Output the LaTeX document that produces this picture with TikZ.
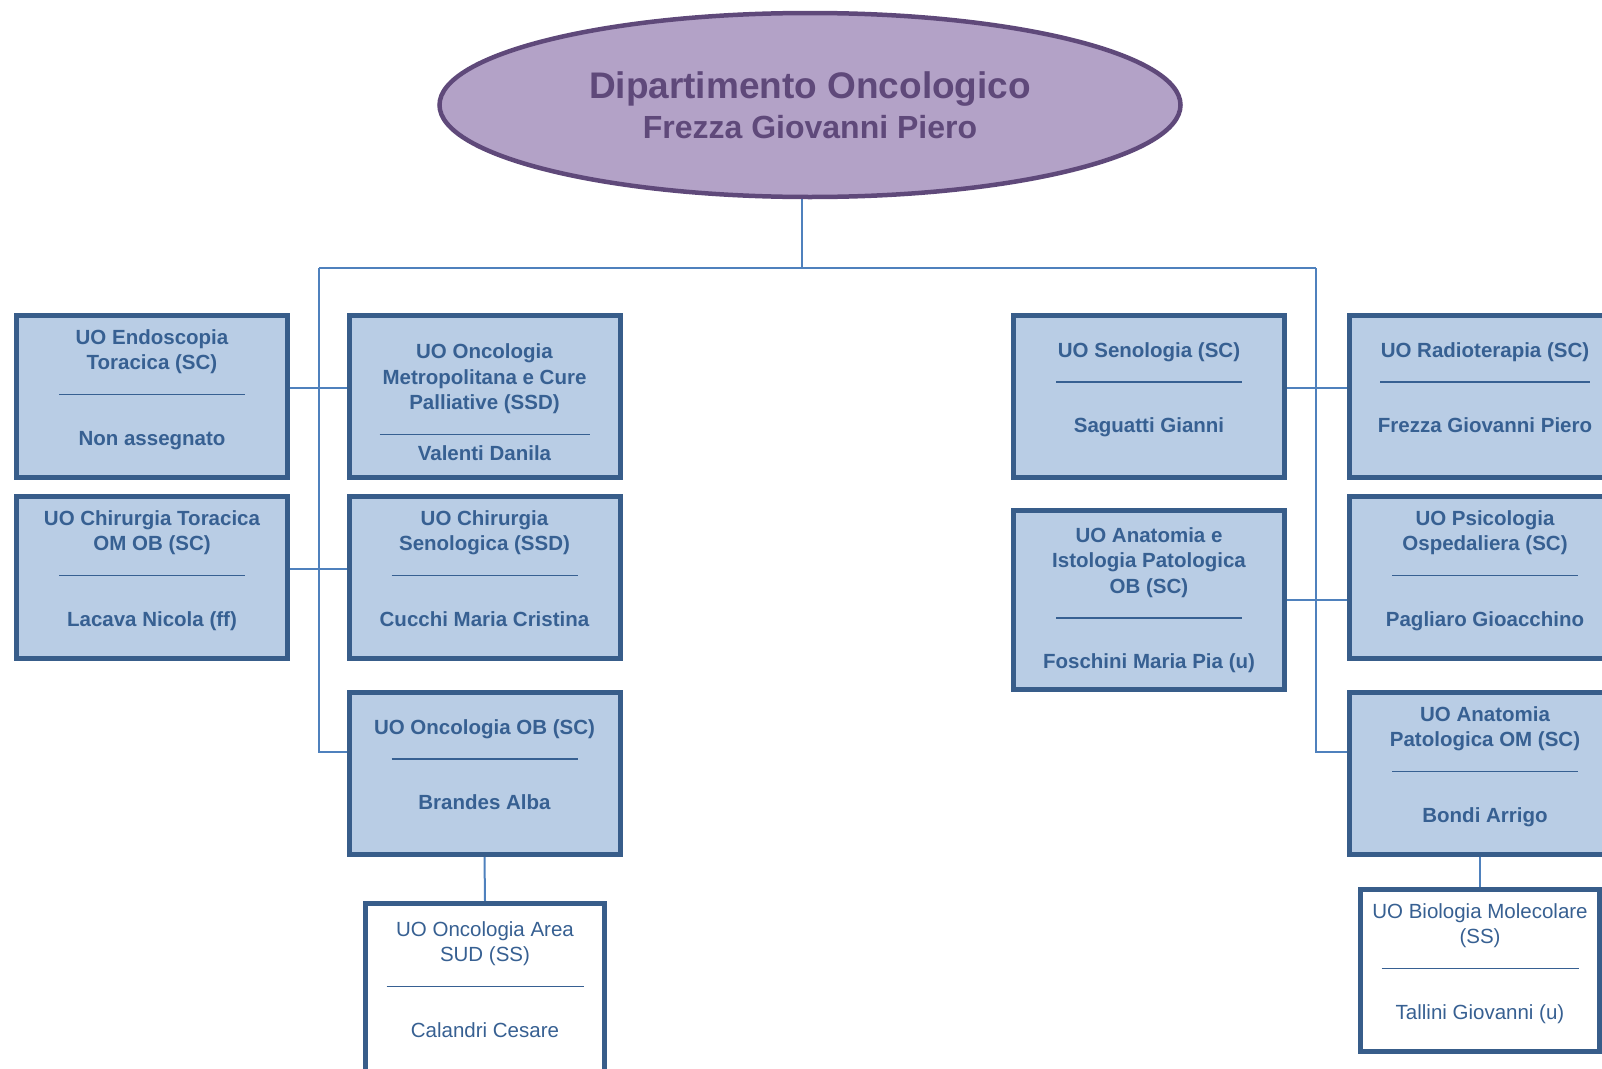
\documentclass[tikz,border=0pt]{standalone}
\usepackage{fontspec}
\setmainfont{Liberation Sans}
\usetikzlibrary{shapes.geometric,backgrounds}

\definecolor{unitfill}{HTML}{B9CDE5}
\definecolor{unitborder}{HTML}{385D8A}
\definecolor{unittext}{HTML}{376092}
\definecolor{linkblue}{HTML}{4F81BD}
\definecolor{deptfill}{HTML}{B3A2C7}
\definecolor{deptborder}{HTML}{5F497A}

\newcommand{\sepline}[1][186pt]{\rule{#1}{1.3pt}}
\newcommand{\lowstrut}{\rule[-18pt]{0pt}{18pt}}
\newcommand{\highstrut}{\rule{0pt}{27pt}}

\begin{document}
\begin{tikzpicture}[
    x=1pt, y=-1pt,
    deptnode/.style={ellipse, draw=deptborder, fill=deptfill, line width=4.5pt, text=deptborder, minimum width=741pt, minimum height=184pt, inner sep=0pt, align=center, font=\bfseries\fontsize{32}{40}\selectfont},
    unitbox/.style={draw=unitborder, fill=unitfill, line width=5pt, text=unittext, align=center, inner sep=0pt, minimum width=271pt, minimum height=162pt, font=\bfseries\fontsize{20.5}{25.5}\selectfont},
    subbox/.style={unitbox, fill=white, minimum width=239pt, font=\fontsize{20.5}{25.5}\selectfont},
    link/.style={draw=linkblue, line width=2pt}
]
    \useasboundingbox (0,0) rectangle (1602,1068);

    % --- Dipartimento ---
    \node[deptnode] (dept) at (810,105) {
        {\fontsize{37}{40}\selectfont Dipartimento Oncologico}\\
        Frezza Giovanni Piero
    };

    % --- Lato sinistro ---
    \node[unitbox] (endo) at (152,396.5) {
        UO Endoscopia\\
        Toracica (SC)\\
        \sepline\\[24.5pt]
        Non assegnato\lowstrut
    };

    \node[unitbox] (metro) at (484.5,396.5) {
        \highstrut UO Oncologia\\
        Metropolitana e Cure\\
        Palliative (SSD)\\
        \sepline[210pt]\\
        Valenti Danila
    };

    \node[unitbox] (chirtor) at (152,577.5) {
        UO Chirurgia Toracica\\
        OM OB (SC)\\
        \sepline\\[24.5pt]
        Lacava Nicola (ff)\lowstrut
    };

    \node[unitbox] (chirseno) at (484.5,577.5) {
        UO Chirurgia\\
        Senologica (SSD)\\
        \sepline\\[24.5pt]
        Cucchi Maria Cristina\lowstrut
    };

    \node[unitbox] (onc) at (484.5,773.5) {
        UO Oncologia OB (SC)\\
        \sepline\\[24.5pt]
        Brandes Alba\lowstrut
    };

    \node[subbox, minimum height=170pt] (sud) at (485,988.5) {
        UO Oncologia Area\\
        SUD (SS)\\
        \sepline[197pt]\\[24.5pt]
        Calandri Cesare\lowstrut
    };

    % --- Lato destro ---
    \node[unitbox] (seno) at (1149,396.5) {
        UO Senologia (SC)\\
        \sepline\\[24.5pt]
        Saguatti Gianni\lowstrut
    };

    \node[unitbox] (radio) at (1485,396.5) {
        UO Radioterapia (SC)\\
        \sepline[210pt]\\[24.5pt]
        Frezza Giovanni Piero\lowstrut
    };

    \node[unitbox, minimum height=179pt] (isto) at (1149,600) {
        UO Anatomia e\\
        Istologia Patologica\\
        OB (SC)\\
        \sepline\\[24.5pt]
        Foschini Maria Pia (u)
    };

    \node[unitbox] (psico) at (1485,577.5) {
        UO Psicologia\\
        Ospedaliera (SC)\\
        \sepline\\[24.5pt]
        Pagliaro Gioacchino\lowstrut
    };

    \node[unitbox] (apom) at (1485,773.5) {
        UO Anatomia\\
        Patologica OM (SC)\\
        \sepline\\[24.5pt]
        Bondi Arrigo\lowstrut
    };

    \node[subbox] (bio) at (1480,970.5) {
        UO Biologia Molecolare\\
        (SS)\\
        \sepline[197pt]\\[24.5pt]
        Tallini Giovanni (u)\lowstrut
    };

    % --- Collegamenti ---
    \begin{scope}[on background layer]
        \coordinate (hub) at (802,268);
        \coordinate (barL) at (319,268);
        \coordinate (barR) at (1316,268);
        \draw[link] (hub |- dept.south) -- (hub);
        \draw[link] (barL) -- (barR);
        \draw[link] (barL) |- ([yshift=22pt]onc.west);
        \draw[link] (barR) |- ([yshift=22pt]apom.west);
        \draw[link] ([yshift=8.5pt]endo.east) -- ([yshift=8.5pt]metro.west);
        \draw[link] ([yshift=8.5pt]chirtor.east) -- ([yshift=8.5pt]chirseno.west);
        \draw[link] ([yshift=8.5pt]seno.east) -- ([yshift=8.5pt]radio.west);
        \draw[link] (isto.east) -- (isto.east -| psico.west);
        \draw[link] (onc.south) -- (sud.north);
        \draw[link] (bio.north |- apom.south) -- (bio.north);
    \end{scope}

\end{tikzpicture}
\end{document}
